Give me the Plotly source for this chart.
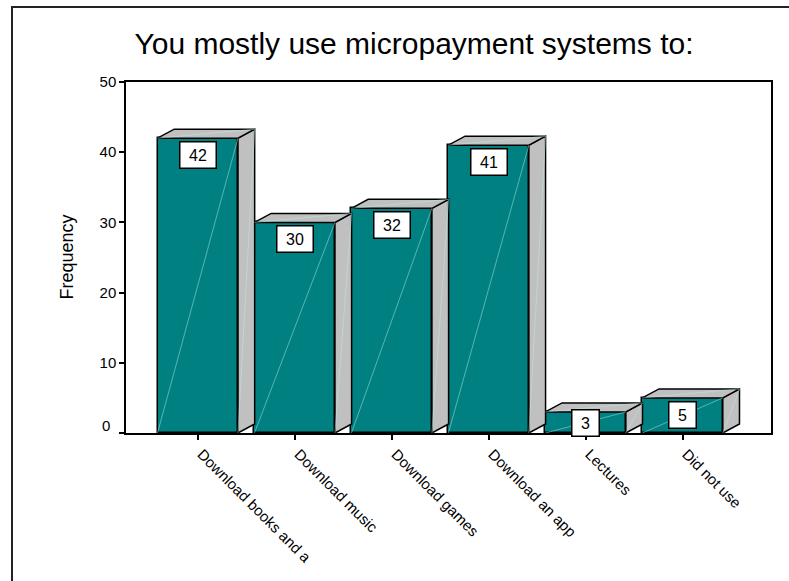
import plotly.graph_objects as go

# Survey responses: what micropayment systems are mostly used for
categories = ["Download books and a", "Download music", "Download games",
              "Download an app", "Lectures", "Did not use"]
frequency = [42, 30, 32, 41, 3, 5]
y_ticks = [0, 10, 20, 30, 40, 50]

FONT = "Liberation Sans, Arial, sans-serif"
TEAL = "#008080"
GREY = "#c0c0c0"
HILITE = "rgba(190,235,235,0.6)"

# pseudo-3D geometry (in axis units)
BAR_W = 0.83
DX = 0.172
DY = 1.28
Y_MAX = 50

W, H = 789, 581
M_L, M_R, M_T, M_B = 126, 18, 82, 148
plot_h = H - M_T - M_B
plot_w = W - M_L - M_R
px_per_unit = plot_h / Y_MAX

xs = list(range(len(categories)))

fig = go.Figure()

# front faces
fig.add_trace(go.Bar(
    x=xs, y=frequency, width=BAR_W,
    marker=dict(color=TEAL, line=dict(color="black", width=1.5)),
    hoverinfo="skip", showlegend=False,
))

# side and top faces
side_x, side_y, top_x, top_y = [], [], [], []
hl_x, hl_y = [], []
for x, v in zip(xs, frequency):
    l, r = x - BAR_W / 2, x + BAR_W / 2
    side_x += [r, r + DX, r + DX, r, r, None]
    side_y += [0, DY, v + DY, v, 0, None]
    top_x += [l, l + DX, r + DX, r, l, None]
    top_y += [v, v + DY, v + DY, v, v, None]
    # faint diagonal highlights on each face
    hl_x += [l, r, None, r, r + DX, None, l, r + DX, None]
    hl_y += [0, v, None, 0, v + DY, None, v, v + DY, None]

for fx, fy in ((side_x, side_y), (top_x, top_y)):
    fig.add_trace(go.Scatter(
        x=fx, y=fy, mode="lines", fill="toself", fillcolor=GREY,
        line=dict(color="black", width=1.5), hoverinfo="skip", showlegend=False,
    ))

fig.add_trace(go.Scatter(
    x=hl_x, y=hl_y, mode="lines", line=dict(color=HILITE, width=0.8),
    hoverinfo="skip", showlegend=False,
))

# value boxes
for x, v in zip(xs, frequency):
    txt = str(v)
    offset = min(17, v * px_per_unit - 10)
    fig.add_annotation(
        x=x, y=v, xref="x", yref="y", text=txt, showarrow=False,
        yanchor="middle", yshift=-offset,
        width=9 * len(txt) + 17, height=25, bgcolor="white",
        bordercolor="black", borderwidth=1.5, borderpad=0,
        font=dict(family=FONT, size=16, color="black"),
    )

# the zero label sits a little above its tick
fig.add_annotation(
    text="0", xref="paper", yref="y", x=(112 - M_L) / plot_w, y=0,
    xanchor="right", yanchor="middle", yshift=8, showarrow=False,
    font=dict(family=FONT, size=15, color="black"),
)

# outer frame around the whole chart
fig.add_shape(
    type="rect", xref="paper", yref="paper",
    x0=(12 - M_L) / plot_w, x1=(W + 10 - M_L) / plot_w,
    y0=-(H + 10 - (H - M_B)) / plot_h, y1=1 + (M_T - 7) / plot_h,
    line=dict(color="#222222", width=2), layer="below",
)

fig.add_annotation(
    text="Frequency", xref="paper", yref="paper",
    x=(66 - M_L) / plot_w, y=0.5, textangle=-90, showarrow=False,
    xanchor="center", yanchor="middle",
    font=dict(family=FONT, size=18, color="black"),
)

fig.update_layout(
    width=W, height=H,
    margin=dict(l=M_L, r=M_R, t=M_T, b=M_B),
    paper_bgcolor="white", plot_bgcolor="white",
    title=dict(text="You mostly use micropayment systems to:",
               x=414 / W, xanchor="center", y=1 - 43 / H, yanchor="middle",
               font=dict(family=FONT, size=30, color="black")),
    font=dict(family=FONT, size=15, color="black"),
    showlegend=False,
    bargap=0,
)
fig.update_xaxes(
    range=[-0.74, 5.912], tickmode="array", tickvals=xs, ticktext=categories,
    tickangle=45, ticks="outside", ticklen=5, tickwidth=1.5, tickcolor="black",
    ticklabelshift=4,
    showline=True, linecolor="black", linewidth=1.5, mirror=True,
    showgrid=False, zeroline=False, tickfont=dict(family=FONT, size=15),
)
fig.update_yaxes(
    range=[0, Y_MAX], tickmode="array", tickvals=y_ticks,
    ticktext=["" if t == 0 else str(t) for t in y_ticks],
    ticks="outside", ticklen=5, tickwidth=1.5, tickcolor="black",
    showline=True, linecolor="black", linewidth=1.5, mirror=True,
    showgrid=False, zeroline=False, tickfont=dict(family=FONT, size=15),
)

fig.write_html("out.html")
